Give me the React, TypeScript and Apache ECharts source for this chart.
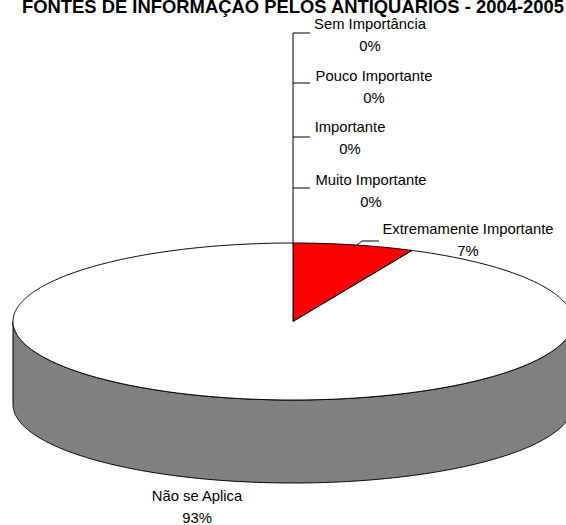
import React, { useEffect, useRef } from "react";
import * as echarts from "echarts";

const title = "FONTES DE INFORMAÇÃO PELOS ANTIQUÁRIOS - 2004-2005";
const categories = [
  "Sem Importância",
  "Pouco Importante",
  "Importante",
  "Muito Importante",
  "Extremamente Importante",
  "Não se Aplica",
];
const values = [0, 0, 0, 0, 7, 93];
const topColors = ["#9999ff", "#993366", "#ffffcc", "#ccffff", "#ff0000", "#ffffff"];
const sideColors = ["#4d4d80", "#4d1a33", "#808066", "#668080", "#800000", "#808080"];

// layout (label anchor centers)
const labelPos: [number, number][] = [
  [370, 23.5],
  [374, 75.5],
  [350, 127],
  [371, 180],
  [468, 229],
  [197, 496],
];

const CX = 293;
const CY = 321.5;
const RX = 280;
const RY = 78.5;
const DEPTH = 83;

function pt(t: number, dy: number): number[] {
  return [CX + RX * Math.sin(t), CY - RY * Math.cos(t) + dy];
}
function arc(a0: number, a1: number, dy: number): number[][] {
  const n = Math.max(2, Math.ceil(Math.abs(a1 - a0) / (Math.PI / 360)));
  const out: number[][] = [];
  for (let k = 0; k <= n; k++) out.push(pt(a0 + ((a1 - a0) * k) / n, dy));
  return out;
}

export default function App() {
  const ref = useRef<HTMLDivElement>(null);
  useEffect(() => {
    if (!ref.current) return;
    const chart = echarts.init(ref.current, undefined, { renderer: "svg" });
    const total = values.reduce((a, b) => a + b, 0);
    const font = '"Liberation Sans", Arial, sans-serif';

    const renderItem = (params: any) => {
      const i = params.dataIndex;
      const v = values[i];
      if (v <= 0) return { type: "group", children: [] };
      const before = values.slice(0, i).reduce((a, b) => a + b, 0);
      const start = (before / total) * Math.PI * 2;
      const end = ((before + v) / total) * Math.PI * 2;
      const children: any[] = [];
      const s0 = Math.max(start, Math.PI / 2);
      const s1 = Math.min(end, (Math.PI * 3) / 2);
      if (s1 > s0) {
        const pts = arc(s0, s1, 0).concat(arc(s1, s0, DEPTH));
        children.push({
          type: "polygon",
          shape: { points: pts },
          style: { fill: sideColors[i], stroke: "#000", lineWidth: 1 },
        });
      }
      children.push({
        type: "polygon",
        shape: { points: [[CX, CY]].concat(arc(start, end, 0)) },
        style: { fill: topColors[i], stroke: "#000", lineWidth: 1 },
      });
      return { type: "group", children };
    };

    const graphics: any[] = [
      {
        type: "text",
        x: 22,
        y: 6,
        style: {
          text: title,
          font: `bold 18.4px ${font}`,
          fill: "#000",
          align: "left",
          verticalAlign: "middle",
        },
      },
      {
        type: "polyline",
        shape: { points: [[293, 33], [293, 243]] },
        style: { stroke: "#000", lineWidth: 1, fill: "none" },
      },
    ];
    [33, 83, 137, 188].forEach((y) => {
      graphics.push({
        type: "line",
        shape: { x1: 293, y1: y, x2: 310, y2: y },
        style: { stroke: "#000", lineWidth: 1 },
      });
    });
    graphics.push({
      type: "polyline",
      shape: { points: [[357, 245], [362, 241], [379, 241]] },
      style: { stroke: "#000", lineWidth: 1, fill: "none" },
    });
    categories.forEach((c, i) => {
      const pct = Math.round((values[i] / total) * 100) + "%";
      const [x, y] = labelPos[i];
      graphics.push({
        type: "text",
        x,
        y,
        style: { text: c, font: `14.8px ${font}`, fill: "#000", align: "center", verticalAlign: "middle" },
      });
      graphics.push({
        type: "text",
        x,
        y: y + 22,
        style: { text: pct, font: `14.8px ${font}`, fill: "#000", align: "center", verticalAlign: "middle" },
      });
    });

    chart.setOption({
      animation: false,
      backgroundColor: "#ffffff",
      series: [
        {
          type: "custom",
          coordinateSystem: "none",
          renderItem,
          data: values.map((v, i) => ({ name: categories[i], value: v })),
          silent: true,
        },
      ],
      graphic: graphics,
    });
    return () => chart.dispose();
  }, []);
  return (
    <div
      ref={ref}
      style={{ position: "absolute", left: 0, top: 0, width: 566, height: 525 }}
    />
  );
}
